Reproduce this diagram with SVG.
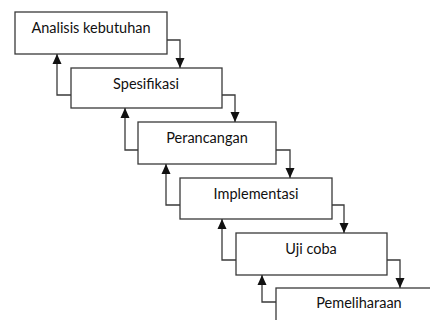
<svg xmlns="http://www.w3.org/2000/svg" width="430" height="320" viewBox="0 0 430 320">
<style>
.box{fill:#fff;stroke:#3a3a3a;stroke-width:1.3}
.lbl{font-family:Lato,"Noto Sans","Liberation Sans",sans-serif;font-size:14.5px;fill:#111;text-anchor:middle}
.con{fill:none;stroke:#3a3a3a;stroke-width:1.3}
</style>
<defs>
<marker id="ah" markerUnits="userSpaceOnUse" markerWidth="10" markerHeight="10" viewBox="0 0 10 10" refX="10" refY="5" orient="auto">
<path d="M0,0.5 L10,5 L0,9.5 z" fill="#111"/>
</marker>
</defs>
<rect width="430" height="320" fill="#fff"/>
<g id="n1"><rect class="box" x="15" y="12" width="152" height="42"/><text class="lbl" x="91" y="33">Analisis kebutuhan</text></g>
<g id="n2"><rect class="box" x="71" y="68" width="151" height="40"/><text class="lbl" x="146" y="89">Spesifikasi</text></g>
<g id="n3"><rect class="box" x="138" y="122" width="138" height="42"/><text class="lbl" x="207" y="143">Perancangan</text></g>
<g id="n4"><rect class="box" x="180" y="178" width="152" height="41"/><text class="lbl" x="256" y="199">Implementasi</text></g>
<g id="n5"><rect class="box" x="236" y="233" width="151" height="42"/><text class="lbl" x="311" y="254">Uji coba</text></g>
<g id="n6"><rect class="box" x="276" y="288" width="170" height="45"/><text class="lbl" x="359" y="308">Pemeliharaan</text></g>
<g id="connectors">
<path class="con" marker-end="url(#ah)" d="M167,40 H180 V68"/>
<path class="con" marker-end="url(#ah)" d="M71,95 H57 V54"/>
<path class="con" marker-end="url(#ah)" d="M222,95 H235 V122"/>
<path class="con" marker-end="url(#ah)" d="M138,150 H125 V108"/>
<path class="con" marker-end="url(#ah)" d="M276,150 H290 V178"/>
<path class="con" marker-end="url(#ah)" d="M180,205 H166 V164"/>
<path class="con" marker-end="url(#ah)" d="M332,205 H344 V233"/>
<path class="con" marker-end="url(#ah)" d="M236,260 H222 V219"/>
<path class="con" marker-end="url(#ah)" d="M387,260 H400 V288"/>
<path class="con" marker-end="url(#ah)" d="M276,302 H262 V275"/>
</g>
</svg>
